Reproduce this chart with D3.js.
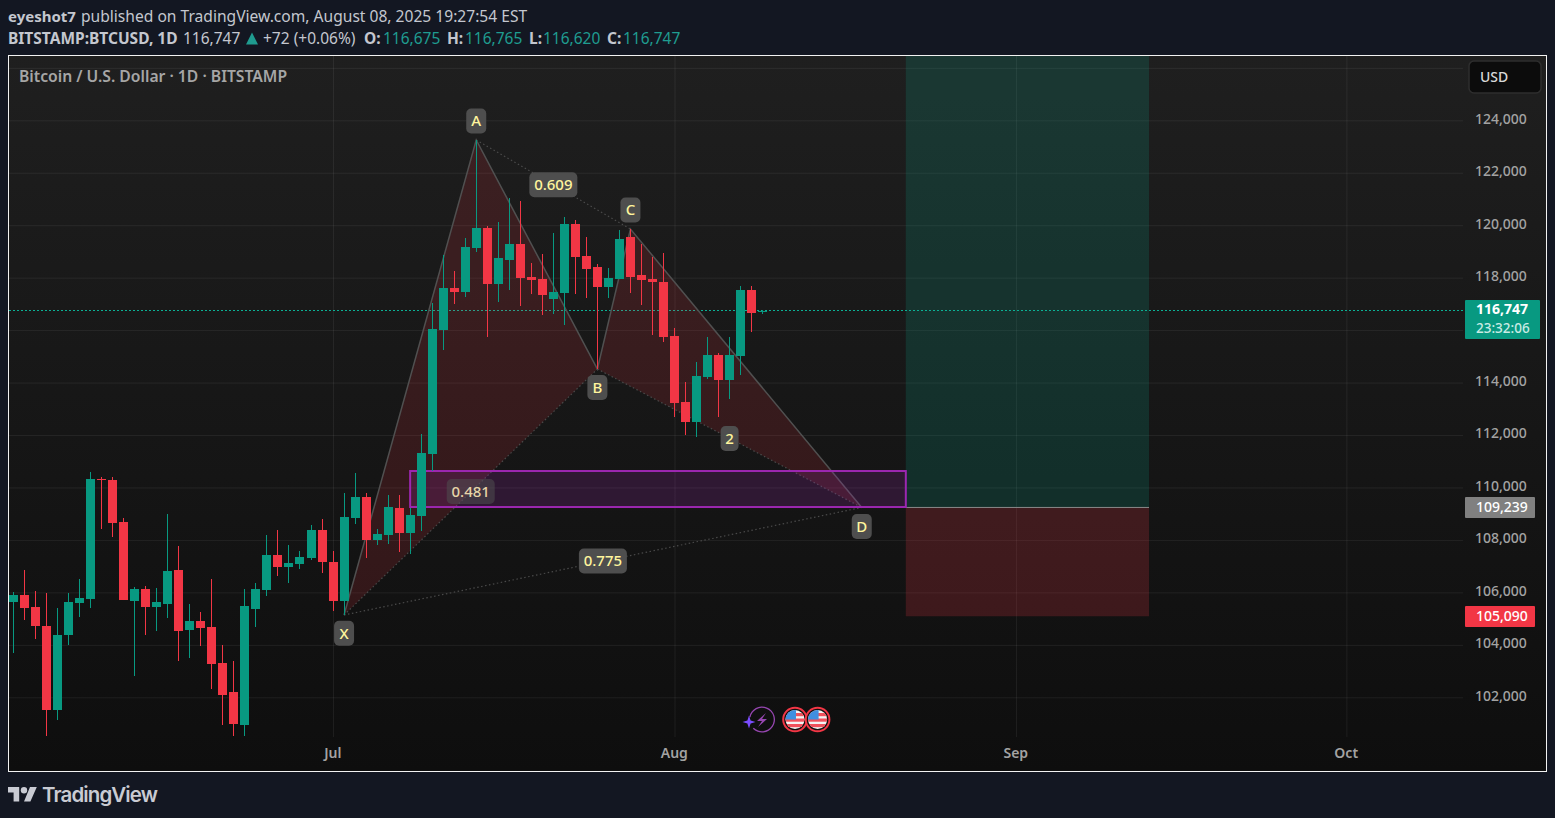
<!DOCTYPE html>
<html><head><meta charset="utf-8">
<script src="https://cdn.jsdelivr.net/npm/d3@7"></script>
<style>
html,body{margin:0;padding:0;background:#131722;overflow:hidden}
svg{display:block}
text{font-family:"Noto Sans",sans-serif}
</style></head><body>
<svg id="c" width="1555" height="818"></svg>
<script>
// ---- data ----
const firstDay = "2025-06-02";
const opens  = [105633,105900,105442,104718,101515,104375,105595,105747,110323,110285,108683,105671,106129,105442,105557,106853,104565,104909,104680,103307,102201,100943,105366,106090,107425,106968,107082,107311,108378,107158,105671,108836,109637,107997,108187,109216,108263,108912,111276,116004,117605,117453,119131,119893,117758,118673,119283,118025,117949,117186,117415,120046,118825,118406,117643,117948,119550,118101,117948,117834,115775,113258,112496,114212,115051,114097,115012,117529,116675];
const highs  = [106014,106853,106052,105976,105404,105976,106510,110590,110399,110399,108836,106205,106243,106167,108988,107768,105557,105252,106510,103993,103383,106129,106357,108188,108378,107806,107578,108569,108798,107578,109789,110552,109789,108417,109712,109712,109216,112038,117034,118864,118254,119512,123249,119970,120122,121037,120923,118559,118902,119703,120313,120198,119550,118520,118368,119817,119855,119283,118787,118940,116080,114021,114784,115737,115127,115737,117681,117681,116765];
const lows   = [103701,104947,104222,100524,101134,103993,105061,105404,108417,108111,105709,102811,104375,104527,105023,103383,103498,103955,102316,100943,100524,100524,104680,105862,106624,106357,106891,107234,106739,105290,105137,108607,107311,107806,107844,107539,107462,108339,110628,115241,116995,117262,118978,115737,117072,117529,116919,117377,116576,116614,116195,117377,117224,114517,117224,117948,117415,116957,115813,115546,112686,111990,111924,114135,112686,113373,114288,115928,116620];
const closes = [105900,105404,104718,101515,104375,105633,105786,110323,110285,108645,105709,106129,105442,105633,106815,104527,104909,104642,103269,102087,100981,105480,106129,107425,106968,107120,107349,108378,107158,105671,108874,109637,107997,108226,109254,108263,108949,111314,116042,117605,117453,119169,119893,117758,118749,119283,117987,117911,117339,117453,120046,118787,118330,117643,117987,119474,118025,117910,117834,115737,113220,112496,114250,115051,114097,115051,117529,116652,116747];

const priceTicks = [102000,104000,106000,108000,110000,112000,114000,116000,118000,120000,122000,124000,126000];
const hiddenPriceTicks = [126000];
const timeTicks = ["2025-07-01","2025-08-01","2025-09-01","2025-10-01"];

const lastPrice = 116747, countdown = "23:32:06";
const entryPrice = 109239, stopPrice = 105090, targetPrice = 128000;
const positionDays = ["2025-08-22","2025-09-13T02:00:00Z"];
const zoneDays = ["2025-07-08","2025-08-22"];
const zonePrices = [110628,109255];

const patternNames  = ["X","A","B","C","D"];
const patternDays   = ["2025-07-02","2025-07-14","2025-07-25","2025-07-28","2025-08-18"];
const patternPrices = [105137,123249,114517,119855,109239];

const labelTexts  = ["A","B","C","D","X","2","0.609","0.481","0.775"];
const labelDays   = ["2025-07-14","2025-07-25","2025-07-28","2025-08-18","2025-07-02","2025-08-06","2025-07-21","2025-07-13T12:00:00Z","2025-07-25T12:00:00Z"];
const labelPrices = [123975,113812,120580,108512,104440,111867,121544,109846,107196];
const labelAlpha  = [1,1,1,1,1,1,1,0.55,1];

// ---- layout ----
const svg = d3.select("#c");
const pane = {l:9,t:56,r:1546,b:771,gridR:1463,gridB:737};
const parse = d3.isoParse;
const x = d3.scaleUtc().domain([parse("2025-07-01"),parse("2025-10-01")]).range([333.04,1346.4]);
const y = d3.scaleLinear().domain([124000,102000]).range([120.3,697.3]);
const green="#089981", red="#f23645";
const candles = opens.map((o,i)=>({date:d3.utcDay.offset(parse(firstDay),i),o,h:highs[i],l:lows[i],c:closes[i]}));

const defs = svg.append("defs");
const grad = defs.append("linearGradient").attr("id","bg").attr("x1",0).attr("x2",0).attr("y1",0).attr("y2",1);
grad.append("stop").attr("offset",0).attr("stop-color","#1f1f1f");
grad.append("stop").attr("offset",1).attr("stop-color","#0e0e0e");
defs.append("clipPath").attr("id","paneClip").append("rect").attr("x",pane.l).attr("y",pane.t).attr("width",pane.gridR-pane.l+1).attr("height",pane.gridB-pane.t);

// panel
svg.append("rect").attr("x",8.5).attr("y",55.5).attr("width",1538).attr("height",716)
  .attr("fill","url(#bg)").attr("stroke","#f2f2f2").attr("stroke-width",1);

// axes + grid
const gridColor="rgba(255,255,255,0.065)", axisText="#a3a3a3";
const yAxis = d3.axisRight(y).tickValues(priceTicks)
  .tickFormat(d=>hiddenPriceTicks.includes(d)?"":d3.format(",")(d))
  .tickSize(-(pane.gridR-pane.l)).tickPadding(12);
const gy = svg.append("g").attr("transform",`translate(${pane.gridR},0)`).call(yAxis);
gy.select(".domain").remove();
gy.selectAll("line").attr("stroke",gridColor).attr("stroke-width",1);
gy.selectAll("text").attr("fill",axisText).attr("font-size",14).attr("font-weight",500).attr("dy","0.2em")
  .attr("style",'font-family:"Noto Sans",sans-serif');

const xAxis = d3.axisBottom(x).tickValues(timeTicks.map(parse)).tickFormat(d3.utcFormat("%b"))
  .tickSize(-(pane.gridB-pane.t)).tickPadding(11.5);
const gx = svg.append("g").attr("transform",`translate(0,${pane.gridB})`).call(xAxis);
gx.select(".domain").remove();
gx.selectAll("line").attr("stroke",gridColor).attr("stroke-width",1);
gx.selectAll("text").attr("fill",axisText).attr("font-size",14).attr("font-weight",600).attr("x",-0.7)
  .attr("style",'font-family:"Noto Sans",sans-serif');

const draw = svg.append("g").attr("clip-path","url(#paneClip)");

// position tool
const px0=x(parse(positionDays[0])), px1=x(parse(positionDays[1]));
draw.append("rect").attr("x",px0).attr("width",px1-px0).attr("y",y(targetPrice)).attr("height",y(entryPrice)-y(targetPrice)).attr("fill","rgba(8,153,129,0.2)");
draw.append("rect").attr("x",px0).attr("width",px1-px0).attr("y",y(entryPrice)).attr("height",y(stopPrice)-y(entryPrice)).attr("fill","rgba(242,54,69,0.2)");
draw.append("line").attr("x1",px0).attr("x2",px1).attr("y1",y(entryPrice)).attr("y2",y(entryPrice)).attr("stroke","#8a8a8a").attr("stroke-width",1);

// last price line
draw.append("line").attr("x1",pane.l).attr("x2",pane.gridR).attr("y1",Math.floor(y(lastPrice))+.5).attr("y2",Math.floor(y(lastPrice))+.5)
  .attr("stroke","#0bb094").attr("stroke-width",1).attr("stroke-dasharray","2 2").attr("shape-rendering","crispEdges");

// harmonic pattern
const P = patternNames.map((n,i)=>[x(parse(patternDays[i])),y(patternPrices[i])]);
const path = d3.line();
const pFill="rgba(242,54,69,0.15)";
draw.append("path").attr("d",path([P[0],P[1],P[2]])+"Z").attr("fill",pFill);
draw.append("path").attr("d",path([P[2],P[3],P[4]])+"Z").attr("fill",pFill);
draw.append("path").attr("d",path(P)).attr("fill","none").attr("stroke","#505050").attr("stroke-width",1.5);
[[0,2],[2,4],[1,3],[0,4]].forEach(([a,b])=>{
  draw.append("path").attr("d",path([P[a],P[b]])).attr("fill","none").attr("stroke","#4a4a4a").attr("stroke-width",1.2).attr("stroke-dasharray","1.5 2.5");
});

// zone
const zx0=x(parse(zoneDays[0])), zx1=x(parse(zoneDays[1]));
draw.append("rect").attr("x",zx0).attr("width",zx1-zx0).attr("y",y(zonePrices[0])).attr("height",y(zonePrices[1])-y(zonePrices[0]))
  .attr("fill","rgba(156,39,176,0.2)").attr("stroke","#9c27b0").attr("stroke-width",2);

// candles
const cg = draw.append("g").attr("shape-rendering","crispEdges").selectAll("g").data(candles).join("g").attr("fill",d=>d.c>=d.o?green:red);
cg.append("rect").attr("x",d=>Math.floor(x(d.date))).attr("width",1)
  .attr("y",d=>y(d.h)).attr("height",d=>y(d.l)-y(d.h));
cg.append("rect").attr("x",d=>Math.floor(x(d.date))-4).attr("width",9)
  .attr("y",d=>y(Math.max(d.o,d.c))).attr("height",d=>Math.max(1,Math.abs(y(d.o)-y(d.c))));

// labels
labelTexts.forEach((t,i)=>{
  const cx=x(parse(labelDays[i])), cy=y(labelPrices[i]);
  const w=t.length>1?48:(t==="2"?18:20), h=25;
  const g=svg.append("g").attr("transform",`translate(${cx},${cy})`);
  g.append("rect").attr("x",-w/2).attr("y",-h/2).attr("width",w).attr("height",h).attr("rx",5)
    .attr("fill",`rgba(78,78,78,${labelAlpha[i]})`);
  g.append("text").attr("text-anchor","middle").attr("dy","0.36em").attr("font-size",15).attr("font-weight",500)
    .attr("fill",labelAlpha[i]<1?"#e6d4a8":"#fff59d").text(t);
});

// price tags
function tag(yTop,h,w,fill,lines){
  svg.append("rect").attr("x",1465).attr("y",yTop).attr("width",w).attr("height",h).attr("fill",fill).attr("rx",1);
  lines.forEach(l=>svg.append("text").attr("x",1476).attr("y",l.y).attr("font-size",l.s||14).attr("font-weight",l.w||500).attr("fill",l.c).text(l.t));
}
const fmt=d3.format(",");
tag(300,39,75,green,[{t:fmt(lastPrice),y:314,c:"#fff",w:700},{t:countdown,y:332.7,s:13.5,c:"#c9ebe4"}]);
tag(497,21,70,"#808080",[{t:fmt(entryPrice),y:512,c:"#fff"}]);
tag(606,21,70,red,[{t:fmt(stopPrice),y:621,c:"#fff"}]);

// USD button
svg.append("rect").attr("x",1469).attr("y",61).attr("width",72).attr("height",32).attr("rx",5).attr("fill","#0c0c0c").attr("stroke","#2e2e2e").attr("stroke-width",1.5);
svg.append("text").attr("x",1480).attr("y",82).attr("font-size",14).attr("font-weight",500).attr("fill","#d8d8d8").text("USD");

// title
svg.append("text").attr("x",19).attr("y",82).attr("font-size",15.7).attr("font-weight",600).attr("fill","#a6a6a6").text("Bitcoin / U.S. Dollar · 1D · BITSTAMP");

// header
function hdr(xp,yp,t,c,w,s){svg.append("text").attr("x",xp).attr("y",yp).attr("font-size",s||15.5).attr("font-weight",w||400).attr("fill",c).text(t);}
const hc="#c4c7cf", tl="#1f9c90";
hdr(8,22,"eyeshot7",hc,700,15);
hdr(81,22,"published on TradingView.com, August 08, 2025 19:27:54 EST",hc,400,15.6);
hdr(8,44,"BITSTAMP:BTCUSD, 1D",hc,700);
hdr(183,44,"116,747",hc);
svg.append("path").attr("d","M246 44.5L252 32.5L258 44.5Z").attr("fill",tl);
hdr(263,44,"+72 (+0.06%)",hc);
hdr(364,44,"O:",hc,700); hdr(383,44,"116,675",tl);
hdr(447,44,"H:",hc,700); hdr(465,44,"116,765",tl);
hdr(529,44,"L:",hc,700); hdr(543,44,"116,620",tl);
hdr(607,44,"C:",hc,700); hdr(623,44,"116,747",tl);

// bottom event icons
const ic=svg.append("g");
ic.append("path").attr("d",d3.arc()({innerRadius:11.7,outerRadius:13,startAngle:-0.55*Math.PI+0.35,endAngle:1.25*Math.PI})).attr("transform","translate(762,719.5)").attr("fill","#9646b0");
ic.append("path").attr("d","M766 713L757 721H762L758 727L767 719H762Z").attr("fill","#9646b0");
ic.append("path").attr("d","M749 715.5L750.6 720.4L755.5 722L750.6 723.6L749 728.5L747.4 723.6L742.5 722L747.4 720.4Z").attr("fill","#7b4dff");
[795,817.6].forEach((cx,i)=>{
  const cy=719.5, id="fl"+i, g=ic.append("g");
  defs.append("clipPath").attr("id",id).append("circle").attr("cx",cx).attr("cy",cy).attr("r",9.5);
  g.append("circle").attr("cx",cx).attr("cy",cy).attr("r",11.8).attr("fill","#111").attr("stroke",red).attr("stroke-width",2);
  const f=g.append("g").attr("clip-path",`url(#${id})`);
  f.append("rect").attr("x",cx-10).attr("y",cy-10).attr("width",20).attr("height",20).attr("fill","#f4f4f4");
  [-6.5,-1,4.5].forEach(o=>f.append("rect").attr("x",cx-10).attr("y",cy+o).attr("width",20).attr("height",3.2).attr("fill","#f0515c"));
  f.append("rect").attr("x",cx-10).attr("y",cy-10).attr("width",11).attr("height",10).attr("fill","#3f8fe0");
});

// logo
const logo=svg.append("g").attr("fill","#c9cbd3");
logo.append("path").attr("transform","translate(8,781.4) scale(0.8)").attr("d","M14 25H7V14H0V7h14v18zM28 25h-8l7.5-18H36l-8 18z");
logo.append("circle").attr("transform","translate(8,781.4) scale(0.8)").attr("cx",20).attr("cy",11).attr("r",4);
svg.append("text").attr("x",42).attr("y",802).attr("font-size",20.5).attr("font-weight",600).attr("fill","#c9cbd3").attr("style","font-family:Inter,sans-serif").attr("letter-spacing",-0.9).text("TradingView");
</script>
</body></html>
